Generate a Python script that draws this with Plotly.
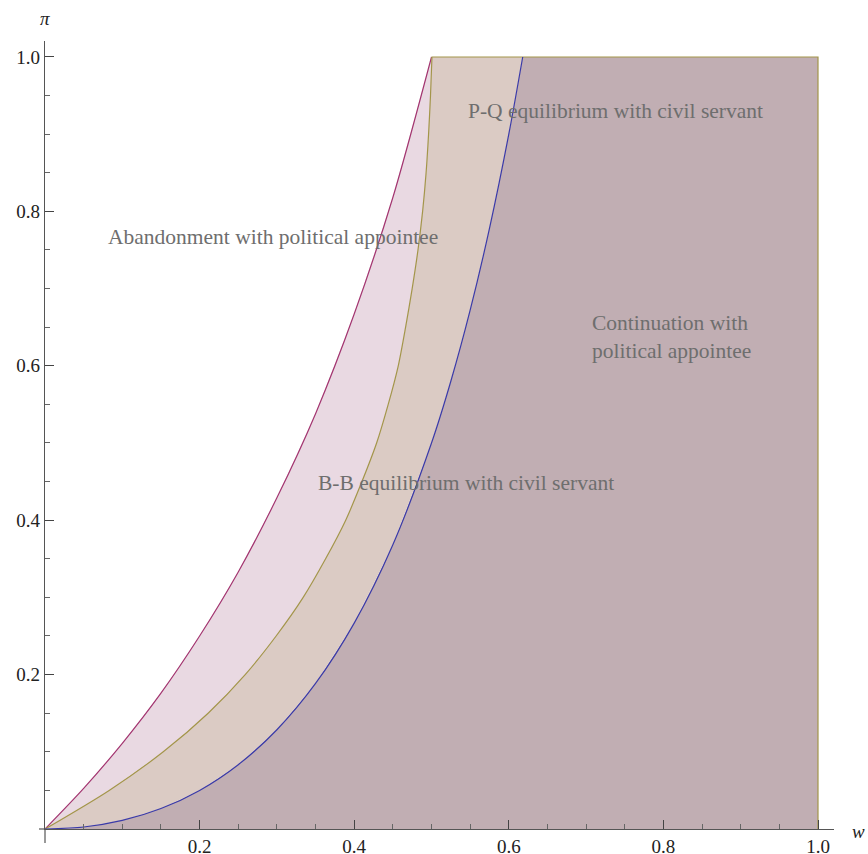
import plotly.graph_objects as go

# Boundary curves (w, pi)
purple_w = [0, 0.05, 0.10, 0.15, 0.20, 0.25, 0.30, 0.35, 0.40, 0.45, 0.50]
purple_pi = [0, 0.0526, 0.111, 0.176, 0.25, 0.333, 0.429, 0.538, 0.667, 0.818, 1.0]

olive_w = [0, 0.083, 0.153, 0.211, 0.259, 0.299, 0.334, 0.363, 0.389, 0.410, 0.429,
           0.444, 0.457, 0.4665, 0.475, 0.4825, 0.4885, 0.493, 0.4962, 0.4987, 0.5006]
olive_pi = [0, 0.05, 0.10, 0.15, 0.20, 0.25, 0.30, 0.35, 0.40, 0.45, 0.50,
            0.55, 0.60, 0.65, 0.70, 0.75, 0.80, 0.85, 0.90, 0.95, 1.0]

blue_w = [0, 0.05, 0.10, 0.15, 0.20, 0.25, 0.30, 0.35, 0.40, 0.45, 0.50, 0.525, 0.55, 0.575, 0.60, 0.618]
blue_pi = [0, 0.0026, 0.0111, 0.0265, 0.050, 0.0833, 0.1286, 0.1885, 0.2667, 0.3682, 0.50, 0.580, 0.672, 0.778, 0.90, 1.0]

x_ticks = [0.2, 0.4, 0.6, 0.8, 1.0]
y_ticks = [0.2, 0.4, 0.6, 0.8, 1.0]
tick_labels = ["0.2", "0.4", "0.6", "0.8", "1.0"]

region_labels = ["Abandonment with political appointee",
                 "P-Q equilibrium with civil servant",
                 "Continuation with<br>political appointee",
                 "B-B equilibrium with civil servant"]
label_w = [0.0789, 0.5446, 0.705, 0.3506]
label_pi = [0.767, 0.930, 0.637, 0.448]

PINK = "#E9D9E2"
TAN = "#DBCBC4"
DARK = "#C1AEB3"
C_PURPLE = "#A33570"
C_OLIVE = "#A3954A"
C_BLUE = "#3A3AA8"

fig = go.Figure()

# dark region: right of blue curve
dx = blue_w + [1.0, 1.0, 0]
dy = blue_pi + [1.0, 0, 0]
fig.add_trace(go.Scatter(x=dx, y=dy, fill="toself", fillcolor=DARK, mode="none", hoverinfo="skip"))

# tan region: between olive and blue
tx = olive_w + blue_w[::-1]
ty = olive_pi + blue_pi[::-1]
fig.add_trace(go.Scatter(x=tx, y=ty, fill="toself", fillcolor=TAN, mode="none", hoverinfo="skip"))

# pink region: between purple and olive
px_ = purple_w + olive_w[::-1]
py_ = purple_pi + olive_pi[::-1]
fig.add_trace(go.Scatter(x=px_, y=py_, fill="toself", fillcolor=PINK, mode="none", hoverinfo="skip"))

# boundary lines
fig.add_trace(go.Scatter(x=[purple_w[-1], 1.0, 1.0], y=[1.0, 1.0, 0], mode="lines",
                         line=dict(color=C_OLIVE, width=1.2), hoverinfo="skip"))
fig.add_trace(go.Scatter(x=purple_w, y=purple_pi, mode="lines",
                         line=dict(color=C_PURPLE, width=1.2, shape="spline", smoothing=0.8), hoverinfo="skip"))
fig.add_trace(go.Scatter(x=olive_w, y=olive_pi, mode="lines",
                         line=dict(color=C_OLIVE, width=1.2, shape="spline", smoothing=0.8), hoverinfo="skip"))
fig.add_trace(go.Scatter(x=blue_w, y=blue_pi, mode="lines",
                         line=dict(color=C_BLUE, width=1.2, shape="spline", smoothing=0.8), hoverinfo="skip"))

for t, xw, yp in zip(region_labels, label_w, label_pi):
    fig.add_annotation(x=xw, y=yp, text=t, showarrow=False, xanchor="left", yanchor="middle",
                       align="left", font=dict(family="Liberation Serif", size=21.5, color="#6e6e6e"))

# axis labels (paper refs so they are not hidden)
fig.add_annotation(x=0, y=1, xref="paper", yref="paper", text="<i>π</i>", showarrow=False,
                   xanchor="center", yanchor="bottom", yshift=10,
                   font=dict(family="Liberation Serif", size=19, color="#222"))
fig.add_annotation(x=1, y=0, xref="paper", yref="paper", text="<i>w</i>", showarrow=False,
                   xanchor="left", yanchor="middle", xshift=16, yshift=-2,
                   font=dict(family="Liberation Serif", size=19, color="#222"))

# small extensions of the axes past the origin
fig.add_shape(type="line", xref="paper", yref="paper", x0=0, x1=0, y0=0, y1=-14 / 788,
              line=dict(color="#555", width=1.2))
fig.add_shape(type="line", xref="paper", yref="paper", x0=-6 / 789, x1=0, y0=0, y1=0,
              line=dict(color="#555", width=1.2))

R = (834 - 45) / 773
axis_common = dict(range=[0, R], showgrid=False, zeroline=False, showline=True, automargin=False,
                   linecolor="#555", linewidth=1.2, ticks="inside", ticklen=9, tickwidth=1.2,
                   tickcolor="#444", tickfont=dict(family="Liberation Serif", size=19, color="#222"),
                   minor=dict(ticks="inside", ticklen=5, tickwidth=1, tickcolor="#666", dtick=0.05, tick0=0),
                   fixedrange=True)

fig.update_layout(
    width=868, height=854,
    margin=dict(l=45, r=34, t=41, b=25),
    plot_bgcolor="white", paper_bgcolor="white",
    showlegend=False,
    xaxis=dict(tickvals=x_ticks, ticktext=tick_labels, **axis_common),
    yaxis=dict(tickvals=y_ticks, ticktext=tick_labels, **axis_common),
)

fig.write_html("out.html", config={"displayModeBar": False},
               post_script="document.body.style.margin='0px';document.body.style.overflow='hidden';")
